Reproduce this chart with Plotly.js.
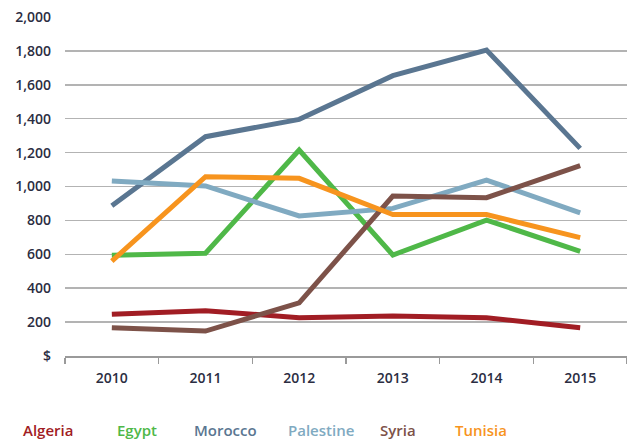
<!DOCTYPE html>
<html>
<head>
<meta charset="utf-8">
<script src="https://cdn.plot.ly/plotly-3.0.1.min.js"></script>
<style>html,body{margin:0;padding:0;background:#fff;}#chart{width:627px;height:441px;}</style>
</head>
<body>
<div id="chart"></div>
<script>
const years = ["2010", "2011", "2012", "2013", "2014", "2015"];
const countries = ["Algeria", "Egypt", "Morocco", "Palestine", "Syria", "Tunisia"];
const algeria = [246, 267, 226, 236, 226, 167];
const egypt = [594, 606, 1215, 596, 802, 617];
const morocco = [887, 1294, 1396, 1654, 1805, 1225];
const palestine = [1032, 1003, 826, 871, 1038, 845];
const syria = [167, 147, 314, 944, 934, 1123];
const tunisia = [560, 1058, 1048, 835, 835, 698];
const yTickVals = [0, 200, 400, 600, 800, 1000, 1200, 1400, 1600, 1800, 2000];
const yTickText = ["$", "200", "400", "600", "800", "1,000", "1,200", "1,400", "1,600", "1,800", "2,000"];

const seriesValues = [algeria, egypt, morocco, palestine, syria, tunisia];
const colors = ["#a11d24", "#4fb848", "#5a7691", "#80aac1", "#7d5249", "#f7941e"];
const legendCenters = [48, 137, 225, 321, 398, 481];
const FONT = "'Open Sans', sans-serif";

const traces = countries.map((c, i) => ({
  type: "scatter", mode: "lines", name: c,
  x: years, y: seriesValues[i],
  line: {color: colors[i], width: 5}
}));

const annotations = countries.map((c, i) => ({
  text: c, xref: "paper", yref: "paper",
  x: (legendCenters[i] - 65) / 562, y: -(430 - 356) / 339,
  xanchor: "center", yanchor: "middle", showarrow: false,
  font: {family: FONT, size: 15, color: colors[i], weight: 600}
}));

const layout = {
  width: 627, height: 441,
  margin: {l: 65, r: 0, t: 17, b: 85},
  paper_bgcolor: "#fff", plot_bgcolor: "#fff",
  showlegend: false,
  xaxis: {
    type: "category", range: [-0.5, 5.5],
    showgrid: false, zeroline: false,
    showline: true, linecolor: "#9a9a9a", linewidth: 1.5,
    ticks: "outside", tickson: "boundaries", ticklen: 6, tickcolor: "#9a9a9a", tickwidth: 1.5,
    ticklabelstandoff: 9,
    tickfont: {family: FONT, size: 14, color: "#2b2d42", weight: 600}
  },
  yaxis: {
    range: [0, 2000], tickvals: yTickVals, ticktext: yTickText,
    showgrid: true, gridcolor: "#b3b3b3", gridwidth: 1.5,
    zeroline: false, showline: false, ticks: "", ticklabelstandoff: 13,
    tickfont: {family: FONT, size: 14, color: "#2b2d42", weight: 600}
  },
  annotations: annotations
};

Plotly.newPlot("chart", traces, layout, {staticPlot: true, displayModeBar: false});
</script>
</body>
</html>
